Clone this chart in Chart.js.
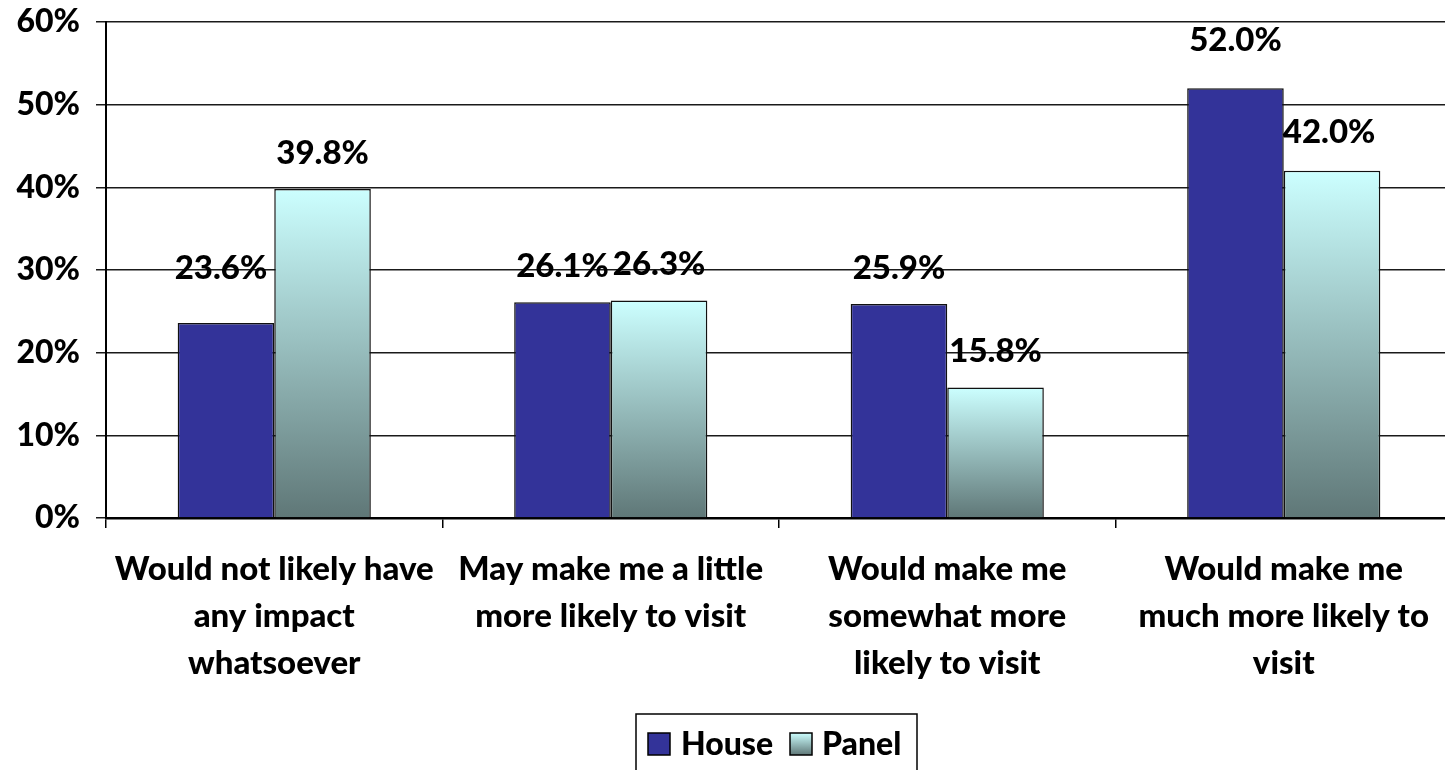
<!DOCTYPE html>
<html>
<head>
<meta charset="utf-8">
<script src="https://cdn.jsdelivr.net/npm/chart.js@4.4.1/dist/chart.umd.min.js"></script>
<style>
  html, body { margin: 0; padding: 0; background: #fff; overflow: hidden; }
  #wrap { width: 1452px; height: 770px; }
</style>
</head>
<body>
<div id="wrap"><canvas id="chart"></canvas></div>
<script>
const categories = [
  ["Would not likely have", "any impact", "whatsoever"],
  ["May make me a little", "more likely to visit"],
  ["Would make me", "somewhat more", "likely to visit"],
  ["Would make me", "much more likely to", "visit"],
];
const seriesNames = ["House", "Panel"];
const houseValues = [23.6, 26.1, 25.9, 52.0];
const panelValues = [39.8, 26.3, 15.8, 42.0];
const yMin = 0;
const yMax = 60;
const yStep = 10;

const FONT = "Lato";
const WEIGHT = "900";
const HOUSE_COLOR = "#333399";

function panelGradient(chart, top, bottom) {
  const g = chart.ctx.createLinearGradient(0, top, 0, bottom);
  g.addColorStop(0, "#CCFFFF");
  g.addColorStop(1, "#5F7777");
  return g;
}

function panelFill(context) {
  const chart = context.chart;
  const y = chart.scales.y;
  if (!y || context.type !== "data") return "#99CCCC";
  const top = y.getPixelForValue(context.raw);
  const base = y.getPixelForValue(0);
  if (!isFinite(top) || !isFinite(base) || top === base) return "#99CCCC";
  return panelGradient(chart, top, base);
}

// value labels above each bar
const valueLabels = {
  id: "valueLabels",
  afterDatasetsDraw(chart, args, opts) {
    const ctx = chart.ctx;
    ctx.save();
    ctx.font = WEIGHT + " 33px " + FONT;
    ctx.fillStyle = "#000";
    ctx.textAlign = "center";
    ctx.textBaseline = "middle";
    chart.data.datasets.forEach((ds, i) => {
      chart.getDatasetMeta(i).data.forEach((bar, j) => {
        const shift = (opts.shifts[i] && opts.shifts[i][j]) || [0, 0];
        ctx.fillText(ds.data[j].toFixed(1) + "%", bar.x + shift[0], bar.y - opts.gap + shift[1]);
      });
    });
    ctx.restore();
  },
};

// boxed legend at the bottom
const boxLegend = {
  id: "boxLegend",
  afterDraw(chart) {
    const ctx = chart.ctx;
    ctx.save();
    ctx.lineWidth = 1.5;
    ctx.strokeStyle = "#000";
    ctx.strokeRect(636, 714, 281, 70);
    ctx.font = WEIGHT + " 32px " + FONT;
    ctx.textBaseline = "middle";
    ctx.fillStyle = HOUSE_COLOR;
    ctx.fillRect(648, 733, 22, 22);
    ctx.strokeRect(648, 733, 22, 22);
    ctx.fillStyle = panelGradient(chart, 733, 755);
    ctx.fillRect(790, 733, 22, 22);
    ctx.strokeRect(790, 733, 22, 22);
    ctx.fillStyle = "#000";
    ctx.textAlign = "left";
    ctx.fillText(seriesNames[0], 681, 745);
    ctx.fillText(seriesNames[1], 822, 745);
    ctx.restore();
  },
};

new Chart(document.getElementById("chart"), {
  type: "bar",
  data: {
    labels: categories,
    datasets: [
      {
        label: seriesNames[0],
        data: houseValues,
        backgroundColor: HOUSE_COLOR,
        borderColor: "#111",
        borderWidth: 1.5,
      },
      {
        label: seriesNames[1],
        data: panelValues,
        backgroundColor: panelFill,
        borderColor: "#111",
        borderWidth: 1.5,
      },
    ],
  },
  options: {
    responsive: true,
    maintainAspectRatio: false,
    animation: false,
    layout: { padding: { top: 0, left: 0, right: 0, bottom: 0 } },
    datasets: {
      bar: { categoryPercentage: 0.574, barPercentage: 1 },
    },
    plugins: {
      legend: { display: false },
      tooltip: { enabled: false },
      valueLabels: {
        gap: 36,
        shifts: [
          [[-5, -19], [0, 0], [0, 0], [0, -12]],
          [[0, 0], [0, 0], [0, 0], [-3, -2]],
        ],
      },
    },
    scales: {
      x: {
        offset: true,
        grid: {
          offset: true,
          drawOnChartArea: false,
          drawTicks: true,
          tickLength: 10,
          color: "#000",
          lineWidth: 1.5,
        },
        border: { display: true, color: "#000", width: 2.5 },
        ticks: {
          color: "#000",
          padding: 18,
          maxRotation: 0,
          autoSkip: false,
          font: { family: FONT, weight: WEIGHT, size: 33, lineHeight: 1.42 },
        },
        afterFit(scale) {
          scale.height = 252;
        },
      },
      y: {
        min: yMin,
        max: yMax,
        grid: {
          color: "#1a1a1a",
          lineWidth: 1.5,
          drawTicks: true,
          tickLength: 10,
        },
        border: { display: true, color: "#000", width: 2 },
        ticks: {
          stepSize: yStep,
          color: "#000",
          padding: 16,
          font: { family: FONT, weight: WEIGHT, size: 32, lineHeight: 1.2 },
          callback: (v) => v + "%",
        },
        afterFit(scale) {
          scale.width = 106;
          scale.paddingTop = 22;
        },
      },
    },
  },
  plugins: [valueLabels, boxLegend],
});
</script>
</body>
</html>
